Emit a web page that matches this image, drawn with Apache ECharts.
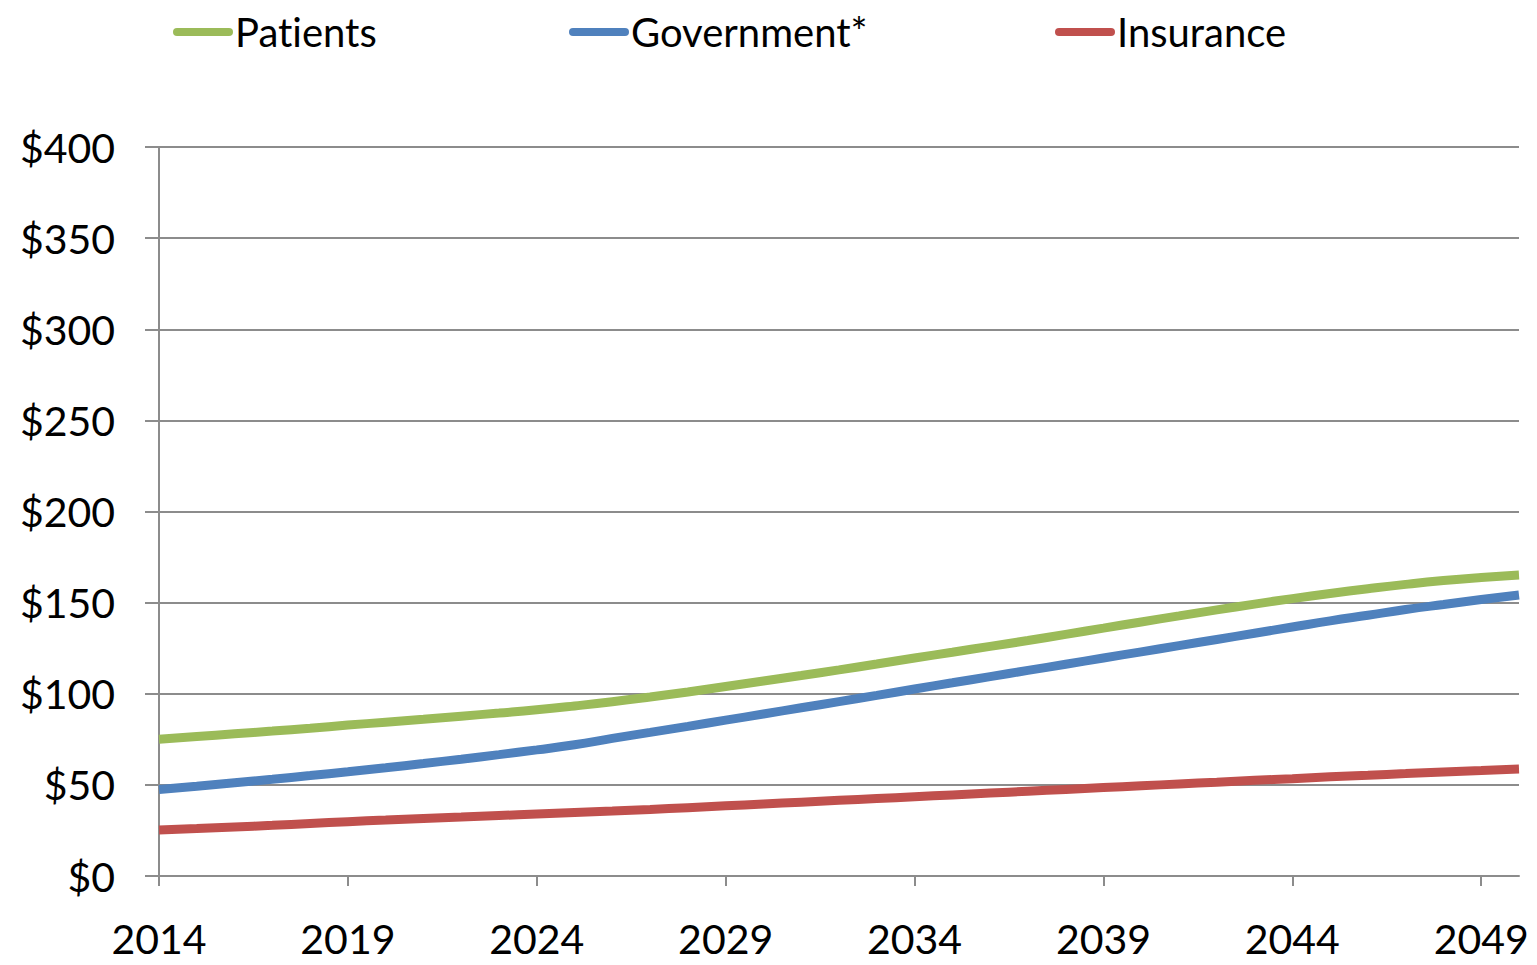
<!DOCTYPE html>
<html>
<head>
<meta charset="utf-8">
<title>Spending by payer, 2014–2050</title>
<script src="https://cdn.jsdelivr.net/npm/echarts@6/dist/echarts.min.js"></script>
<style>
  html, body { margin: 0; padding: 0; background: #ffffff; }
  #chart { width: 1537px; height: 965px; }
  /* keep letters separate (no "ti" ligature) */
  #chart text { font-variant-ligatures: none; font-feature-settings: "liga" 0, "clig" 0; }
</style>
</head>
<body>
<div id="chart"></div>
<script>
// Years on the horizontal axis (one point per year)
const years = [];
for (let y = 2014; y <= 2050; y++) years.push(String(y));

// Annual spending per payer, in dollars
const patients = [
  75.0, 76.5, 78.0, 79.5, 81.1, 82.8, 84.4, 86.0, 87.7, 89.4,
  91.2, 93.3, 95.6, 98.2, 101.0, 104.0, 107.0, 110.0, 113.1, 116.3,
  119.6, 122.8, 126.0, 129.2, 132.6, 136.0, 139.4, 142.7, 146.0, 149.2,
  152.2, 155.0, 157.6, 160.0, 162.1, 163.8, 165.2
];
const government = [
  47.5, 49.3, 51.2, 53.1, 55.1, 57.2, 59.4, 61.7, 64.1, 66.6,
  69.2, 72.0, 75.5, 78.8, 82.1, 85.5, 88.9, 92.3, 95.7, 99.1,
  102.6, 106.0, 109.4, 112.8, 116.2, 119.6, 123.0, 126.4, 129.8, 133.2,
  136.6, 140.0, 143.1, 146.2, 149.0, 151.7, 154.2
];
const insurance = [
  25.2, 26.0, 26.9, 27.8, 28.8, 29.8, 30.7, 31.6, 32.4, 33.2,
  34.0, 34.8, 35.6, 36.5, 37.5, 38.5, 39.5, 40.5, 41.5, 42.5,
  43.5, 44.5, 45.5, 46.5, 47.5, 48.5, 49.5, 50.5, 51.5, 52.5,
  53.4, 54.4, 55.3, 56.2, 57.1, 57.9, 58.7
];

const seriesNames = ['Patients', 'Government*', 'Insurance'];
const seriesColors = ['#9BBB59', '#4F81BD', '#C0504D'];

const FONT = 'Lato';
const GRID_GRAY = '#8c8c8c';
const pill = 'path://M4,0 L56,0 A4,4 0 0 1 56,8 L4,8 A4,4 0 0 1 4,0 Z';

function legendAt(name, left) {
  return {
    data: [name],
    left: left,
    top: 10,
    padding: 0,
    icon: pill,
    itemWidth: 60,
    itemHeight: 9,
    itemGap: 0,
    selectedMode: false,
    textStyle: { fontFamily: FONT, fontSize: 40, color: '#000', lineHeight: 44, padding: [0, 0, 0, -3] }
  };
}

const chart = echarts.init(document.getElementById('chart'), null, { renderer: 'svg' });

chart.setOption({
  animation: false,
  backgroundColor: '#ffffff',
  color: seriesColors,
  legend: [
    legendAt(seriesNames[0], 173),
    legendAt(seriesNames[1], 569),
    legendAt(seriesNames[2], 1055)
  ],
  grid: { left: 159, right: 18, top: 147, bottom: 89, containLabel: false },
  xAxis: {
    type: 'category',
    data: years,
    boundaryGap: false,
    axisLine: { show: true, lineStyle: { color: GRID_GRAY, width: 2 } },
    axisTick: { show: true, interval: 4, length: 10, lineStyle: { color: GRID_GRAY, width: 2 } },
    axisLabel: { interval: 4, margin: 42, fontFamily: FONT, fontSize: 41, color: '#000' },
    splitLine: { show: false }
  },
  yAxis: {
    type: 'value',
    min: 0,
    max: 400,
    interval: 50,
    axisLine: { show: true, lineStyle: { color: GRID_GRAY, width: 2 } },
    axisTick: { show: true, length: 14, lineStyle: { color: GRID_GRAY, width: 2 } },
    axisLabel: {
      margin: 44,
      fontFamily: FONT,
      fontSize: 41,
      color: '#000',
      formatter: v => '$' + v
    },
    splitLine: { show: true, lineStyle: { color: GRID_GRAY, width: 2 } }
  },
  series: [
    { name: seriesNames[0], type: 'line', data: patients, smooth: true, showSymbol: false, lineStyle: { width: 9, color: seriesColors[0] }, z: 3 },
    { name: seriesNames[1], type: 'line', data: government, smooth: true, showSymbol: false, lineStyle: { width: 9, color: seriesColors[1] }, z: 3 },
    { name: seriesNames[2], type: 'line', data: insurance, smooth: true, showSymbol: false, lineStyle: { width: 9, color: seriesColors[2] }, z: 3 }
  ]
});
</script>
</body>
</html>
